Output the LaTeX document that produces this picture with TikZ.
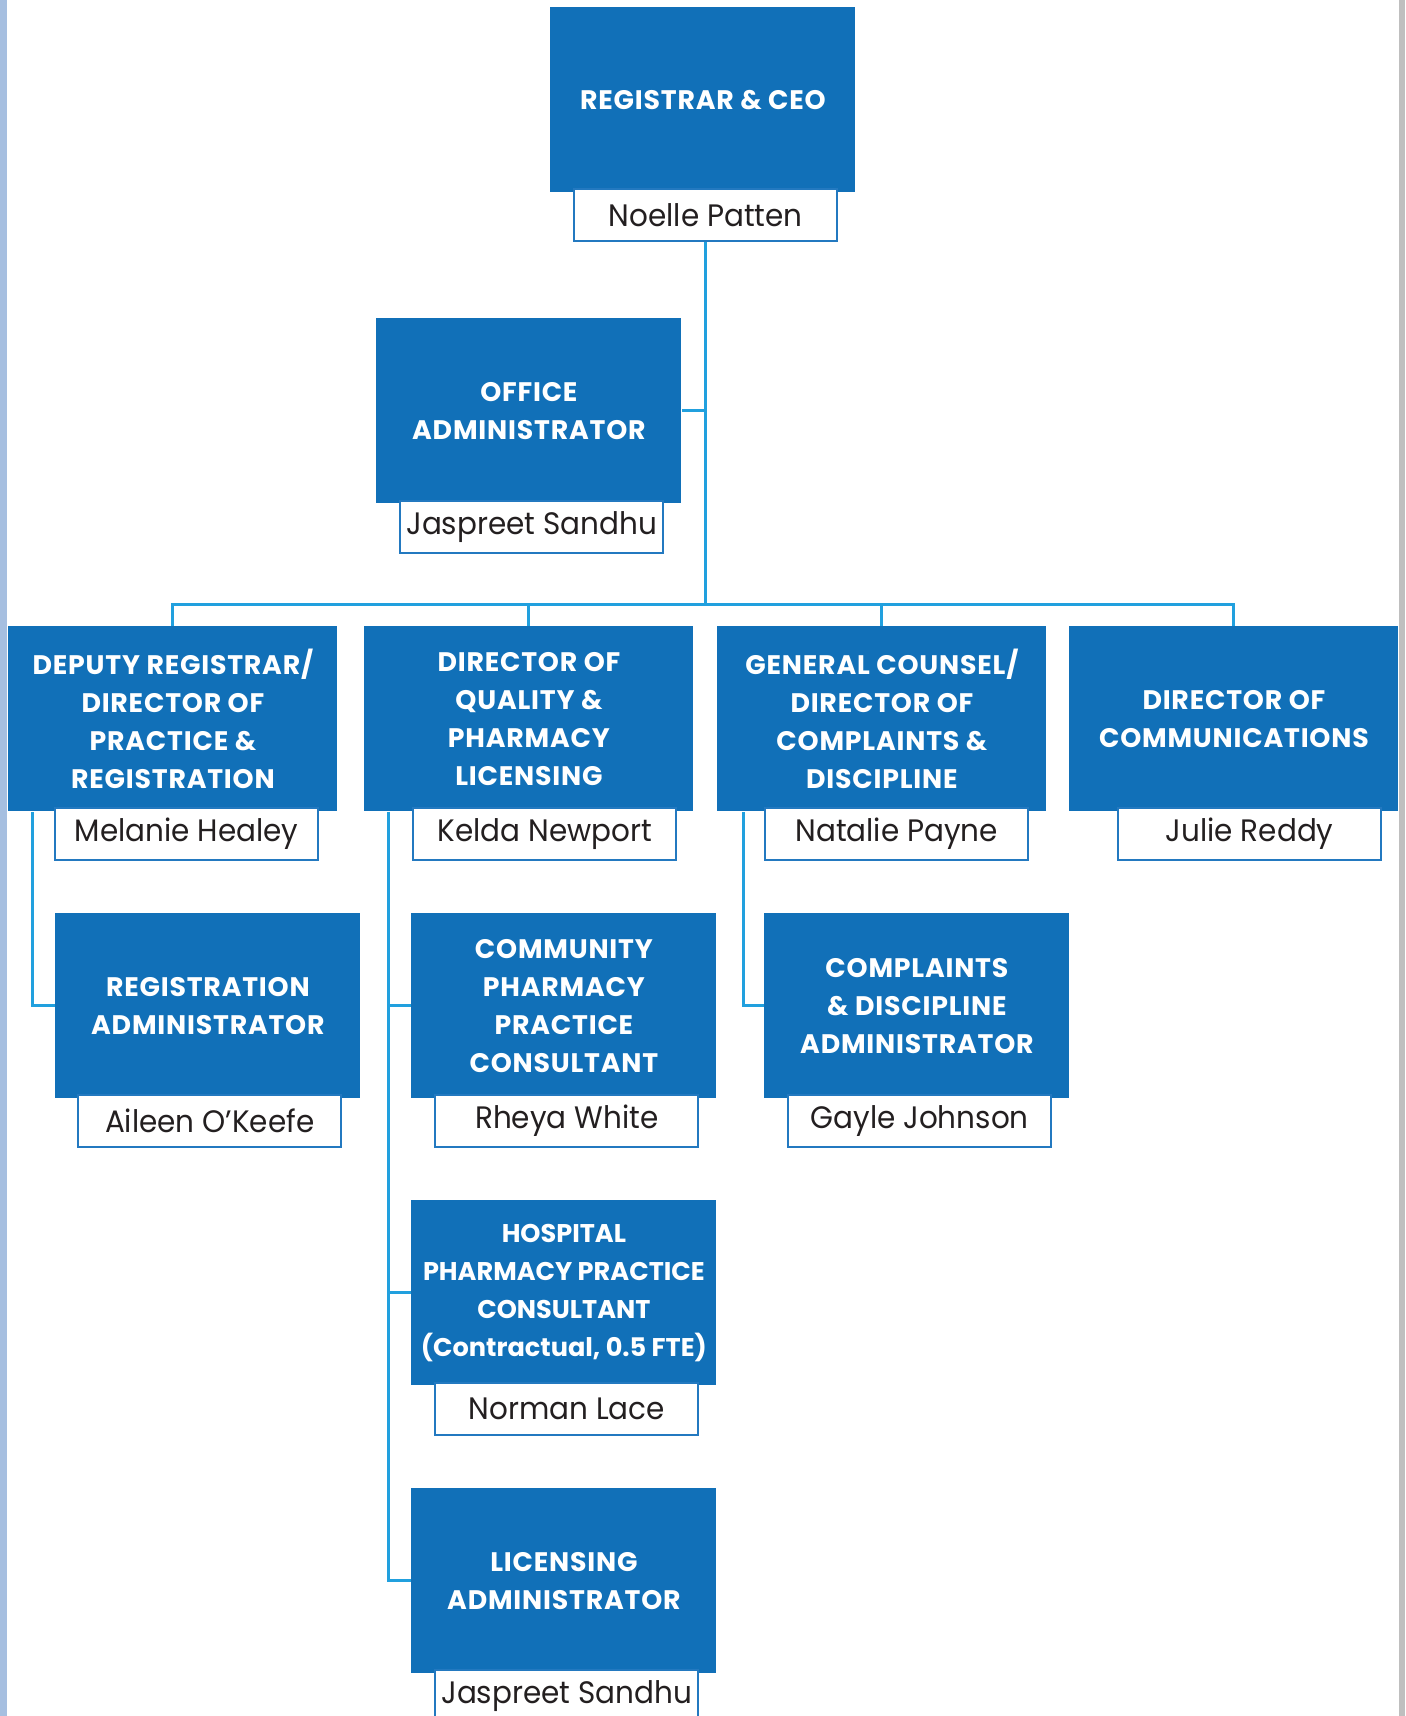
\documentclass[tikz,border=0pt]{standalone}
\usepackage{fontspec}
\setmainfont{Poppins}
\newfontfamily\namefont[FakeStretch=0.95]{Poppins}
\usetikzlibrary{positioning}
\definecolor{boxblue}{RGB}{17,112,184}
\definecolor{linkblue}{RGB}{33,160,222}
\definecolor{namerule}{RGB}{35,121,192}
\definecolor{nametext}{RGB}{35,31,32}
\definecolor{sidebar}{RGB}{166,191,224}
\begin{document}
\begin{tikzpicture}[x=0.5pt,y=-0.5pt,
  rolebox/.style={fill=boxblue,text=white,align=center,inner sep=0pt,
    minimum width=152.5pt,minimum height=92.5pt,anchor=north west,
    font=\fontsize{13.4}{19}\selectfont\bfseries\addfontfeature{LetterSpace=3}},
  widebox/.style={rolebox,minimum width=164.5pt},
  tightbox/.style={rolebox,font=\fontsize{12.8}{19}\selectfont\bfseries},
  personbox/.style={draw=namerule,line width=1.2pt,fill=white,text=nametext,
    inner sep=0pt,minimum width=131.5pt,minimum height=26pt,anchor=north west,
    font=\namefont\fontsize{15.5}{18}\selectfont},
  link/.style={draw=linkblue,line width=1.5pt}]
\useasboundingbox (0,0) rectangle (1405,1716);
\clip (0,0) rectangle (1405,1716);
\fill[sidebar] (0,0) rectangle (7,1716);
\fill[black!25] (1399,0) rectangle (1405,1716);

\node[rolebox] (ceo) at (550,7) {REGISTRAR \& CEO};
\node[personbox] (ceoN) at ([shift={(23,-5)}]ceo.south west) {Noelle Patten};

\node[rolebox] (office) at (376,318) {OFFICE\\ADMINISTRATOR};
\node[personbox] (officeN) at ([shift={(23,-4)}]office.south west) {Jaspreet Sandhu};

\node[widebox] (dep) at (8,626) {DEPUTY REGISTRAR/\\DIRECTOR OF\\PRACTICE \&\\REGISTRATION};
\node[personbox] (depN) at ([shift={(46,-5)}]dep.south west) {Melanie Healey};
\node[widebox] (qual) at (364,626) {DIRECTOR OF\\QUALITY \&\\PHARMACY\\LICENSING};
\node[personbox] (qualN) at ([shift={(48,-5)}]qual.south west) {Kelda Newport};
\node[widebox] (gc) at (717,626) {GENERAL COUNSEL/\\DIRECTOR OF\\COMPLAINTS \&\\DISCIPLINE};
\node[personbox] (gcN) at ([shift={(47,-5)}]gc.south west) {Natalie Payne};
\node[widebox] (comms) at (1069,626) {DIRECTOR OF\\COMMUNICATIONS};
\node[personbox] (commsN) at ([shift={(48,-5)}]comms.south west) {Julie Reddy};

\node[rolebox] (reg) at (55,913) {REGISTRATION\\ADMINISTRATOR};
\node[personbox] (regN) at ([shift={(22,-5)}]reg.south west) {Aileen O’Keefe};
\node[rolebox] (cpc) at (411,913) {COMMUNITY\\PHARMACY\\PRACTICE\\CONSULTANT};
\node[personbox] (cpcN) at ([shift={(23,-5)}]cpc.south west) {Rheya White};
\node[rolebox] (cda) at (764,913) {COMPLAINTS\\\& DISCIPLINE\\ADMINISTRATOR};
\node[personbox] (cdaN) at ([shift={(23,-5)}]cda.south west) {Gayle Johnson};

\node[tightbox] (hosp) at (411,1200) {HOSPITAL\\PHARMACY PRACTICE\\CONSULTANT\\(Contractual, 0.5 FTE)};
\node[personbox] (hospN) at ([shift={(23,-4)}]hosp.south west) {Norman Lace};
\node[rolebox] (lic) at (411,1488) {LICENSING\\ADMINISTRATOR};
\node[personbox] (licN) at ([shift={(23,-5)}]lic.south west) {Jaspreet Sandhu};

\coordinate (bus) at (ceoN.south |- 0,604);
\draw[link] (ceoN.south) -- (bus);
\draw[link] (office.east) -- (office.east -| bus);
\draw[link] (dep.north) |- (bus) -| (comms.north);
\draw[link] (qual.north) -- (qual.north |- bus) (gc.north) -- (gc.north |- bus);
\draw[link] ([xshift=12pt]dep.south west) |- (reg.west);
\draw[link] ([xshift=12pt]qual.south west) |- (lic.west);
\draw[link] ([xshift=12pt]qual.south west) |- (cpc.west);
\draw[link] ([xshift=12pt]qual.south west) |- (hosp.west);
\draw[link] ([xshift=13pt]gc.south west) |- (cda.west);
\end{tikzpicture}
\end{document}
